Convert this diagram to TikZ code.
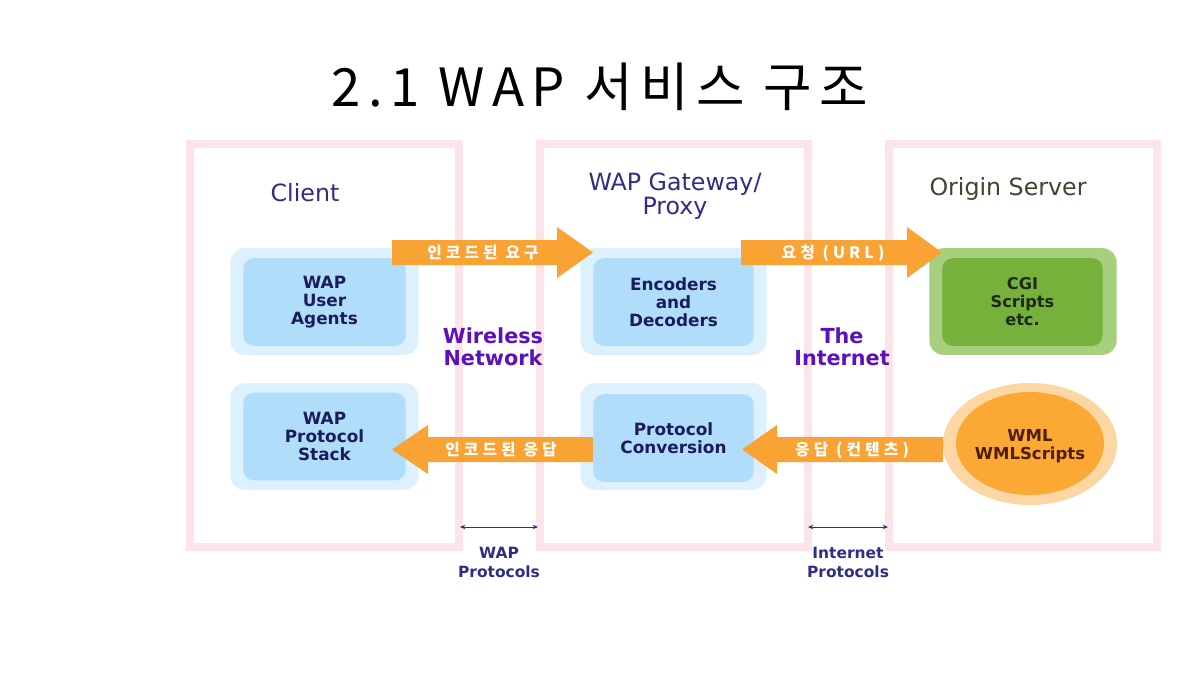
\documentclass[tikz,border=0pt]{standalone}
\usepackage{fontspec}
\setmainfont{DejaVu Sans}
\newfontfamily\krarrow[LetterSpace=26]{Noto Sans CJK KR}
\newfontfamily\krtitle[LetterSpace=14]{Noto Sans CJK KR}
\usetikzlibrary{arrows.meta}
\definecolor{framepink}{RGB}{253,228,232}
\definecolor{blueout}{RGB}{221,240,253}
\definecolor{bluein}{RGB}{176,222,250}
\definecolor{greenout}{RGB}{166,207,126}
\definecolor{greenin}{RGB}{118,177,60}
\definecolor{peach}{RGB}{253,215,163}
\definecolor{orangein}{RGB}{251,168,52}
\definecolor{arroworange}{RGB}{249,163,52}
\definecolor{navy}{RGB}{46,46,136}
\definecolor{boxtext}{RGB}{28,28,90}
\definecolor{purpletext}{RGB}{92,16,192}
\definecolor{olive}{RGB}{58,72,46}
\definecolor{darkgreen}{RGB}{30,40,22}
\definecolor{brown}{RGB}{78,30,0}
\begin{document}
\begin{tikzpicture}[x=0.02cm,y=-0.02cm,
  frame/.style={draw=framepink,line width=4.5pt},
  outerbox/.style={fill=blueout,rounded corners=8pt,draw=none,inner sep=0pt},
  innerbox/.style={fill=bluein,rounded corners=6pt,draw=none,inner sep=0pt,
     font=\fontsize{9.6}{10.3}\selectfont\bfseries,text=boxtext,align=center},
  heading/.style={font=\fontsize{13.5}{13.8}\selectfont,text=navy,align=center},
  netlabel/.style={font=\fontsize{11.8}{12.3}\selectfont\bfseries,text=purpletext,align=center},
  protlabel/.style={font=\fontsize{8.8}{10.8}\selectfont\bfseries,text=navy,align=center},
  arrowbody/.style={fill=arroworange,draw=none},
  arrowtext/.style={font=\krarrow\fontsize{9}{9}\selectfont\bfseries,text=white},
  small/.style={draw=navy,line width=0.5pt,{Stealth[length=3pt,width=2.5pt]}-{Stealth[length=3pt,width=2.5pt]}}
]
\useasboundingbox[fill=white] (0,0) rectangle (1200,680);

% title
\node[font=\krtitle\fontsize{30}{31}\selectfont] (title) at (600,87) {2.1 WAP 서비스 구조};

% frames
\draw[frame] (190,144) rectangle (459,547);
\draw[frame] (540,144) rectangle (808,547);
\draw[frame] (889,144) rectangle (1157,547);

% headings
\node[heading] (client) at (305,193) {Client};
\node[heading] (gw) at (675,196) {WAP Gateway/\\Proxy};
\node[heading,text=olive] (origin) at (1008,189) {Origin Server};

% client boxes
\node[outerbox,minimum width=189*0.5669pt,minimum height=107*0.5669pt] (uaO) at (324.5,301.5) {};
\node[innerbox,minimum width=163*0.5669pt,minimum height=88*0.5669pt] (ua) at (324.5,302) {WAP\\User\\Agents};
\node[outerbox,minimum width=189*0.5669pt,minimum height=107*0.5669pt] (stO) at (324.5,436.5) {};
\node[innerbox,minimum width=163*0.5669pt,minimum height=88*0.5669pt] (st) at (324.5,436.5) {WAP\\Protocol\\Stack};

% gateway boxes
\node[outerbox,minimum width=187*0.5669pt,minimum height=107*0.5669pt] (edO) at (673.5,301.5) {};
\node[innerbox,minimum width=161*0.5669pt,minimum height=88*0.5669pt] (ed) at (673.5,302) {Encoders\\and\\Decoders};
\node[outerbox,minimum width=187*0.5669pt,minimum height=107*0.5669pt] (pcO) at (673.5,436.5) {};
\node[innerbox,minimum width=161*0.5669pt,minimum height=88*0.5669pt] (pc) at (673.5,438) {Protocol\\Conversion};

% origin server
\node[outerbox,fill=greenout,minimum width=188*0.5669pt,minimum height=107*0.5669pt] (cgiO) at (1023,301.5) {};
\node[innerbox,fill=greenin,text=darkgreen,font=\fontsize{9.2}{10.3}\selectfont\bfseries,minimum width=161*0.5669pt,minimum height=88*0.5669pt] (cgi) at (1022.5,302) {CGI\\Scripts\\etc.};
\fill[peach] (1030,444) ellipse [x radius=87,y radius=61];
\fill[orangein] (1030,443.5) ellipse [x radius=74,y radius=51.5];
\node[font=\fontsize{9.4}{10.3}\selectfont\bfseries,text=brown,align=center] (wml) at (1030,446) {WML\\WMLScripts};

% network labels
\node[netlabel] (wireless) at (493,347) {Wireless\\Network};
\node[netlabel] (internet) at (842,347) {The\\Internet};

% block arrows
\fill[arrowbody] (392,240) -- (557,240) -- (557,227) -- (593,252.5) -- (557,278) -- (557,265) -- (392,265) -- cycle;
\node[arrowtext] (t1) at (483,253) {인코드된 요구};
\fill[arrowbody] (741,240) -- (907,240) -- (907,227) -- (942,252.5) -- (907,278) -- (907,265) -- (741,265) -- cycle;
\node[arrowtext] (t2) at (833,253) {요청 (URL)};
\fill[arrowbody] (593,437) -- (428,437) -- (428,425) -- (392,449.5) -- (428,474) -- (428,462) -- (593,462) -- cycle;
\node[arrowtext] (t3) at (501,450) {인코드된 응답};
\fill[arrowbody] (943,437) -- (777,437) -- (777,425) -- (742,449.5) -- (777,474) -- (777,462) -- (943,462) -- cycle;
\node[arrowtext] (t4) at (852,450) {응답 (컨텐츠)};

% protocol arrows
\coordinate (wl) at (460,527);
\coordinate (wr) at (538,527);
\coordinate (il) at (808,527);
\coordinate (ir) at (888,527);
\draw[small] (wl) -- (wr);
\draw[small] (il) -- (ir);
\node[protlabel] (wapp) at (499,562) {WAP\\Protocols};
\node[protlabel] (intp) at (848,562) {Internet\\Protocols};
\end{tikzpicture}
\end{document}
